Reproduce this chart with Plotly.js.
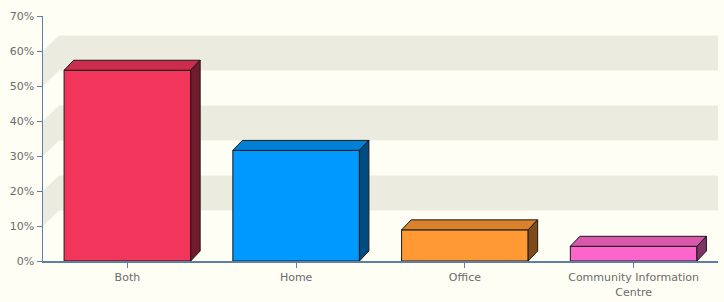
<!DOCTYPE html>
<html>
<head>
<meta charset="utf-8">
<script src="https://cdn.plot.ly/plotly-3.0.1.min.js"></script>
<style>html,body{margin:0;padding:0;background:#fffef5;}#chart{width:724px;height:302px;}</style>
</head>
<body>
<div id="chart"></div>
<script>
// ---- data ----
var categories = ["Both", "Home", "Office", "Community Information<br>Centre"];
var values = [54.5, 31.6, 8.9, 4.2];
var frontColors = ["#F2355A", "#0099FF", "#FF9933", "#FF66CC"];
var topColors = ["#CC2D4C", "#0080D4", "#D9822B", "#D957AD"];
var sideColors = ["#731B2D", "#004C80", "#7F4C19", "#803366"];
var yTickVals = [0, 10, 20, 30, 40, 50, 60, 70];

// ---- layout geometry ----
var W = 724, H = 302;
var M = {l: 43, r: 6, t: 16, b: 41};
var yMax = 70;
var barWidth = 0.75;
var plotW = W - M.l - M.r, plotH = H - M.t - M.b;
var pxPerX = plotW / categories.length;
var pxPerY = plotH / yMax;
// bar depth (pixels -> data units)
var dX = 9.5 / pxPerX, dY = 10 / pxPerY;
// wall depth
var wX = 16 / pxPerX, wY = 15.5 / pxPerY;

var xs = categories.map(function (c, i) { return i; });

var traces = [];
traces.push({
  type: "bar", x: xs, y: values, width: barWidth,
  marker: {color: frontColors, line: {color: "#1a1a1a", width: 1}},
  hoverinfo: "skip", showlegend: false
});
xs.forEach(function (x, i) {
  var v = values[i], x0 = x - barWidth / 2, x1 = x + barWidth / 2;
  // top face
  traces.push({
    type: "scatter", mode: "lines", fill: "toself",
    x: [x0, x0 + dX, x1 + dX, x1, x0],
    y: [v, v + dY, v + dY, v, v],
    fillcolor: topColors[i], line: {color: "#1a1a1a", width: 1},
    hoverinfo: "skip", showlegend: false
  });
  // side face
  traces.push({
    type: "scatter", mode: "lines", fill: "toself",
    x: [x1, x1 + dX, x1 + dX, x1, x1],
    y: [v, v + dY, dY, 0, v],
    fillcolor: sideColors[i], line: {color: "#1a1a1a", width: 1},
    hoverinfo: "skip", showlegend: false
  });
});

// background wall bands
var shapes = [];
var beige = "#EBEBDF";
for (var k = 0; k < yTickVals.length - 1; k++) {
  if (k % 2 === 1) {
    var a = yTickVals[k], b = yTickVals[k + 1];
    shapes.push({type: "rect", layer: "below", xref: "x", yref: "y",
      x0: -0.5 + wX, x1: categories.length - 0.5, y0: a + wY, y1: b + wY,
      fillcolor: beige, line: {width: 0}});
    shapes.push({type: "path", layer: "below", xref: "x", yref: "y",
      path: "M " + (-0.5) + "," + a + " L " + (-0.5 + wX) + "," + (a + wY) +
            " L " + (-0.5 + wX) + "," + (b + wY) + " L " + (-0.5) + "," + b + " Z",
      fillcolor: beige, line: {width: 0}});
  }
}

var axisColor = "#5F7FA6";
var layout = {
  width: W, height: H,
  margin: M,
  paper_bgcolor: "#FFFEF5", plot_bgcolor: "#FFFEF5",
  font: {family: "DejaVu Sans", size: 11, color: "#6B6B6B"},
  showlegend: false,
  bargap: 0.25,
  xaxis: {
    range: [-0.5, categories.length - 0.5], fixedrange: true,
    tickmode: "array", tickvals: xs, ticktext: categories,
    showgrid: false, zeroline: false,
    showline: true, linecolor: axisColor, linewidth: 2,
    ticks: "outside", ticklen: 5, tickcolor: axisColor, tickwidth: 1
  },
  yaxis: {
    range: [0, yMax], fixedrange: true,
    tickmode: "array", tickvals: yTickVals,
    ticktext: yTickVals.map(function (v) { return v + "%"; }),
    showgrid: false, zeroline: false,
    showline: true, linecolor: axisColor, linewidth: 1.5,
    ticks: "outside", ticklen: 5, tickcolor: axisColor, tickwidth: 1
  },
  shapes: shapes
};
Plotly.newPlot("chart", traces, layout, {displayModeBar: false, staticPlot: true});
</script>
</body>
</html>
